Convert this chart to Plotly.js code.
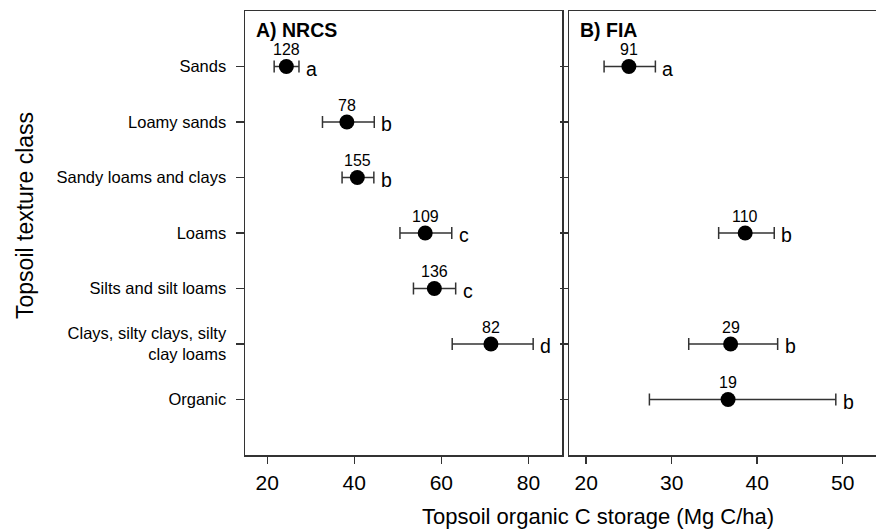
<!DOCTYPE html>
<html>
<head>
<meta charset="utf-8">
<script src="https://cdn.plot.ly/plotly-3.0.1.min.js"></script>
<style>html,body{margin:0;padding:0;background:#fff;}#chart{width:876px;height:532px;}</style>
</head>
<body>
<div id="chart"></div>
<script>
// Categories (top to bottom)
const categories = ["Sands", "Loamy sands", "Sandy loams and clays", "Loams", "Silts and silt loams", "Clays, silty clays, silty<br>clay loams", "Organic"];

// A) NRCS
const nrcsClass = ["Sands", "Loamy sands", "Sandy loams and clays", "Loams", "Silts and silt loams", "Clays, silty clays, silty<br>clay loams"];
const nrcsMean  = [24.4, 38.3, 40.7, 56.3, 58.4, 71.4];
const nrcsLow   = [21.6, 32.7, 37.2, 50.5, 53.6, 62.5];
const nrcsHigh  = [27.3, 44.6, 44.5, 62.4, 63.3, 81.1];
const nrcsN     = ["128", "78", "155", "109", "136", "82"];
const nrcsGroup = ["a", "b", "b", "c", "c", "d"];

// B) FIA
const fiaClass = ["Sands", "Loams", "Clays, silty clays, silty<br>clay loams", "Organic"];
const fiaMean  = [25.0, 38.6, 36.9, 36.6];
const fiaLow   = [22.1, 35.5, 32.0, 27.4];
const fiaHigh  = [28.1, 42.0, 42.4, 49.2];
const fiaN     = ["91", "110", "29", "19"];
const fiaGroup = ["a", "b", "b", "b"];

const panelTitles = ["A) NRCS", "B) FIA"];
const xTitle = "Topsoil organic C storage (Mg C/ha)";
const yTitle = "Topsoil texture class";

const FONT = "Liberation Sans, Arial, Helvetica, sans-serif";
const AX = "#333";

function trace(cls, mean, low, high, xa, ya) {
  return {
    type: "scatter", mode: "markers",
    x: mean, y: cls, xaxis: xa, yaxis: ya,
    marker: {color: "#000", size: 15},
    error_x: {
      type: "data", symmetric: false,
      array: high.map((h, i) => h - mean[i]),
      arrayminus: low.map((l, i) => mean[i] - l),
      color: AX, thickness: 1.5, width: 6
    },
    showlegend: false, hoverinfo: "skip"
  };
}

const data = [
  trace(nrcsClass, nrcsMean, nrcsLow, nrcsHigh, "x", "y"),
  trace(fiaClass, fiaMean, fiaLow, fiaHigh, "x2", "y2")
];

const annotations = [];
function addLabels(cls, mean, high, n, grp, xr, yr) {
  cls.forEach((c, i) => {
    annotations.push({x: mean[i], y: c, xref: xr, yref: yr, text: n[i], showarrow: false,
      yshift: 17, font: {family: FONT, size: 16, color: "#000"}});
    annotations.push({x: high[i], y: c, xref: xr, yref: yr, text: grp[i], showarrow: false,
      xanchor: "left", xshift: 5, yshift: -2, font: {family: FONT, size: 19.5, color: "#000"}});
  });
}
addLabels(nrcsClass, nrcsMean, nrcsHigh, nrcsN, nrcsGroup, "x", "y");
addLabels(fiaClass, fiaMean, fiaHigh, fiaN, fiaGroup, "x2", "y2");

annotations.push({text: "<b>" + panelTitles[0] + "</b>", xref: "x domain", yref: "y domain", x: 0, y: 1,
  xanchor: "left", yanchor: "middle", xshift: 9, yshift: -19, showarrow: false,
  font: {family: FONT, size: 19.5, color: "#000"}});
annotations.push({text: "<b>" + panelTitles[1] + "</b>", xref: "x2 domain", yref: "y2 domain", x: 0, y: 1,
  xanchor: "left", yanchor: "middle", xshift: 9, yshift: -19, showarrow: false,
  font: {family: FONT, size: 19.5, color: "#000"}});
annotations.push({text: xTitle, xref: "paper", yref: "paper", x: 0.5594, y: -0.1396,
  xanchor: "center", yanchor: "middle", showarrow: false,
  font: {family: FONT, size: 22, color: "#000"}});
annotations.push({text: yTitle, xref: "paper", yref: "paper", x: -0.3487, y: 0.5405,
  xanchor: "center", yanchor: "middle", textangle: -90, showarrow: false,
  font: {family: FONT, size: 23, color: "#000"}});

const xCommon = {
  showgrid: false, zeroline: false, showline: true, linecolor: AX, linewidth: 1.5, mirror: true,
  ticks: "outside", ticklen: 7, tickwidth: 1.3, tickcolor: AX, ticklabelstandoff: 1,
  tickfont: {family: FONT, size: 21, color: "#000"}
};
const yCommon = {
  type: "category", categoryorder: "array", categoryarray: categories,
  range: [categories.length, -1],
  showgrid: false, zeroline: false, showline: true, linecolor: AX, linewidth: 1.5,
  ticks: "outside", ticklen: 8, tickwidth: 1.3, tickcolor: AX
};

const layout = {
  width: 876, height: 532,
  margin: {l: 245, r: 0, t: 11, b: 77},
  paper_bgcolor: "#fff", plot_bgcolor: "#fff",
  font: {family: FONT, color: "#000"},
  xaxis: Object.assign({}, xCommon, {domain: [0, 0.5029], range: [14.9, 87.8], tickvals: [20, 40, 60, 80], anchor: "y"}),
  xaxis2: Object.assign({}, xCommon, {domain: [0.5135, 1], range: [18.0, 53.9], tickvals: [20, 30, 40, 50], anchor: "y2"}),
  yaxis: Object.assign({}, yCommon, {mirror: true, anchor: "x", ticklabelstandoff: 6,
    tickfont: {family: FONT, size: 16.5, color: "#000"}}),
  yaxis2: Object.assign({}, yCommon, {mirror: false, anchor: "x2", showticklabels: false}),
  annotations: annotations
};

Plotly.newPlot("chart", data, layout, {displayModeBar: false, staticPlot: true});
</script>
</body>
</html>
